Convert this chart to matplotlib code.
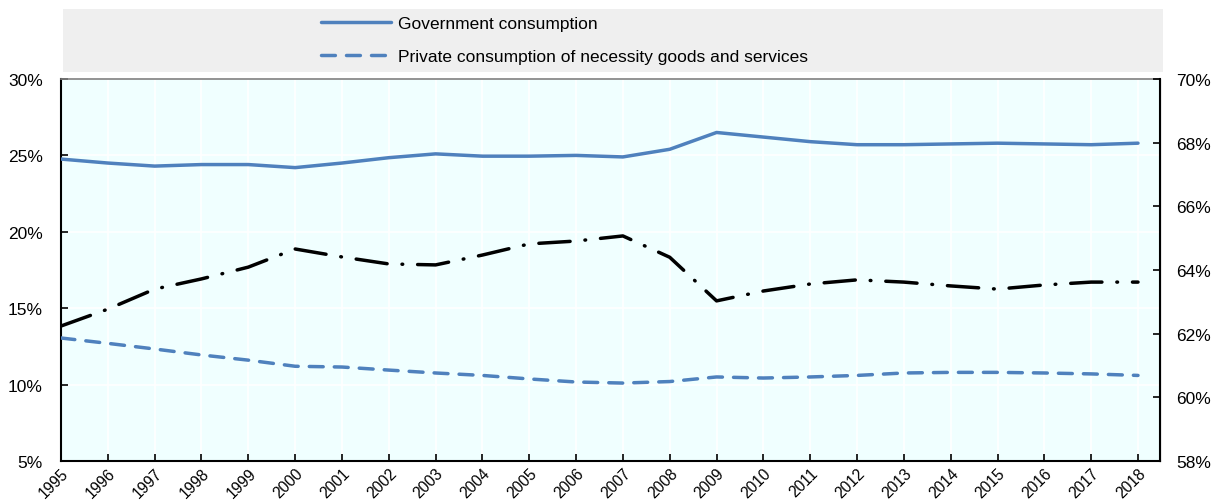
import matplotlib
matplotlib.use("Agg")
import matplotlib.pyplot as plt
from matplotlib.patches import Rectangle
from matplotlib.ticker import FuncFormatter, MultipleLocator

plt.rcParams['font.family'] = ['Liberation Sans', 'DejaVu Sans']

years = list(range(1995, 2019))
gov_consumption = [24.76, 24.5, 24.3, 24.4, 24.4, 24.2, 24.5, 24.85, 25.1, 24.95,
                   24.95, 25.0, 24.9, 25.4, 26.5, 26.2, 25.9, 25.7, 25.7, 25.75,
                   25.8, 25.75, 25.7, 25.8]
private_necessity = [13.05, 12.7, 12.33, 11.94, 11.6, 11.2, 11.15, 10.95, 10.76, 10.6,
                     10.37, 10.17, 10.1, 10.2, 10.5, 10.43, 10.5, 10.6, 10.76, 10.8,
                     10.8, 10.76, 10.7, 10.6]
right_series = [62.24, 62.77, 63.4, 63.72, 64.09, 64.66, 64.41, 64.19, 64.16, 64.47,
                64.82, 64.91, 65.07, 64.4, 63.03, 63.34, 63.56, 63.69, 63.62, 63.5,
                63.4, 63.53, 63.62, 63.62]
legend_labels = ["Government consumption", "Private consumption of necessity goods and services"]

blue = '#4f81bd'

fig = plt.figure(figsize=(12.12, 5.02), dpi=100)
ax = fig.add_axes([61/1212, 1-462/502, (1160-61)/1212, (462-80)/502])

# legend background
fig.patches.append(Rectangle((63/1212, 1-73/502), (1163-63)/1212, 63/502,
                             transform=fig.transFigure, facecolor='#efefef',
                             edgecolor='none', zorder=0))

ax.set_facecolor('#f0ffff')
l1, = ax.plot(years, gov_consumption, color=blue, lw=2.5, solid_capstyle='round',
              solid_joinstyle='round', zorder=3)
l2, = ax.plot(years, private_necessity, color=blue, lw=2.5, dashes=(4, 3.2),
              dash_capstyle='round', dash_joinstyle='round', zorder=3)
ax.set_ylim(5, 30)
ax.set_xlim(1995, 2018.47)
ax.yaxis.set_major_locator(MultipleLocator(5))
ax.yaxis.set_major_formatter(FuncFormatter(lambda v, p: f"{v:.0f}%"))
ax.set_xticks(years)
ax.set_xticklabels([str(y) for y in years], rotation=45, ha='right',
                   rotation_mode='anchor')
ax.grid(True, color='white', lw=1.2, zorder=0)
ax.set_axisbelow(True)
ax.tick_params(axis='both', direction='in', length=5, width=1.2, labelsize=12.5,
               colors='black')
ax.tick_params(axis='y', pad=13)
ax.tick_params(axis='x', pad=3, labelsize=11.2)
for s in ['left', 'bottom']:
    ax.spines[s].set_linewidth(1.5)
ax.spines['top'].set_color('#808080')
ax.spines['top'].set_linewidth(1.2)

ax2 = ax.twinx()
ax2.plot(years, right_series, color='black', lw=2.5, dashes=(9, 4.3, 0.2, 4.3),
         dash_capstyle='round', dash_joinstyle='round', zorder=3)
ax2.set_ylim(58, 70)
ax2.yaxis.set_major_locator(MultipleLocator(2))
ax2.yaxis.set_major_formatter(FuncFormatter(lambda v, p: f"{v:.0f}%"))
ax2.tick_params(axis='y', direction='in', length=5, width=1.2, labelsize=12.5, pad=11.5)
ax2.spines['right'].set_linewidth(1.5)
ax2.spines['top'].set_visible(False)
ax2.spines['left'].set_visible(False)
ax2.spines['bottom'].set_visible(False)

fig.legend([l1, l2], legend_labels, loc='upper left',
           bbox_to_anchor=(318/1212, 1-13/502), frameon=False, fontsize=12.5,
           handlelength=4.0, handletextpad=0.4, labelspacing=1.05,
           borderaxespad=0, borderpad=0.2)

fig.savefig('out.png', dpi=100)
